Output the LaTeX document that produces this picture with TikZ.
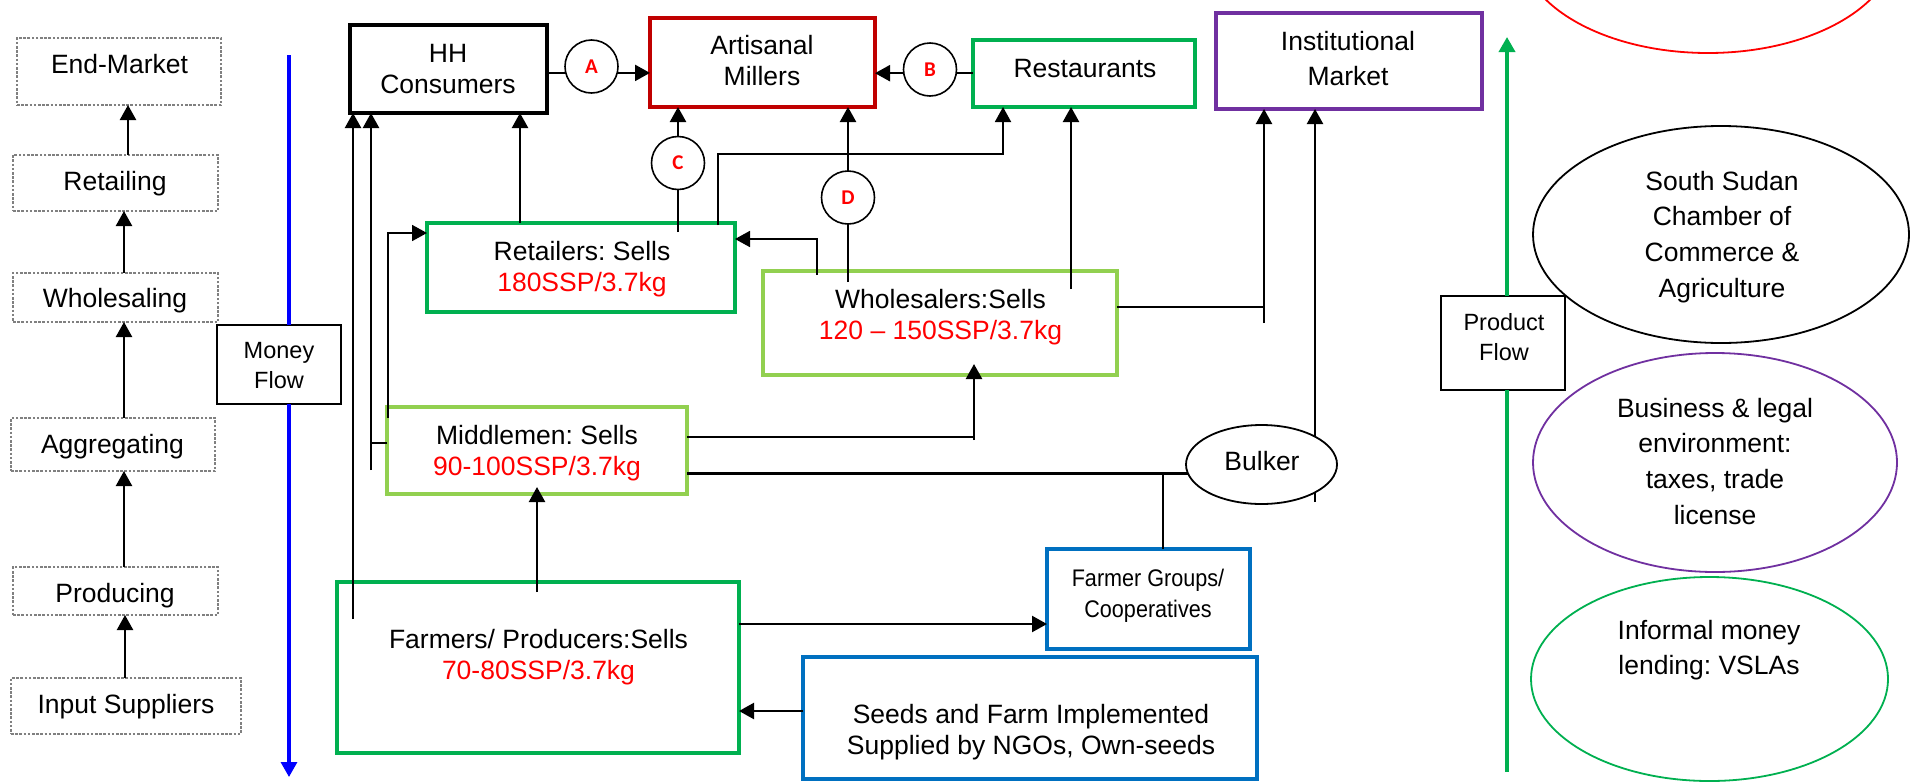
\documentclass[tikz,border=0pt]{standalone}
\usepackage{fontspec}
\setmainfont{Liberation Sans}
\newfontfamily\narrowfont[FakeStretch=0.9]{Liberation Sans}
\newfontfamily\tagfont{Carlito}
\usetikzlibrary{arrows.meta,shapes.geometric}
\frenchspacing

\definecolor{actgreen}{HTML}{00B050}
\definecolor{litegreen}{HTML}{92D050}
\definecolor{millred}{HTML}{C00000}
\definecolor{instpurple}{HTML}{7030A0}
\definecolor{coopblue}{HTML}{0070C0}
\definecolor{pricered}{HTML}{FF0000}
\definecolor{moneyblue}{HTML}{0000FF}
\definecolor{stepgray}{HTML}{808080}

\newcommand\capstrut{\rule{0pt}{20pt}}
\newcommand\boxfont{\fontsize{26.5}{31}\selectfont}
\newcommand\ovalfont{\fontsize{26.5}{35.7}\selectfont}
\newcommand\flowfont{\fontsize{23.5}{30}\selectfont}
\newcommand\price[1]{\textcolor{pricered}{#1}}

\tikzset{
  bx/.style={rectangle, inner sep=0pt, outer sep=0pt},
  dims/.style 2 args={minimum width=#1pt, minimum height=#2pt},
  stepbox/.style={bx, draw=stepgray, line width=1.1pt, dash pattern=on 2.6pt off 1.6pt},
  flowbox/.style={bx, draw=black, line width=2pt},
  actor/.style={bx, draw=#1, line width=3.2pt},
  oval/.style={ellipse, draw=#1, line width=1.8pt, inner sep=0pt, outer sep=0pt},
  tag/.style={circle, draw=black, line width=1.6pt, fill=white, inner sep=0pt, outer sep=0pt,
              minimum size=53pt, text=pricered, font=\tagfont\bfseries\fontsize{21}{21}\selectfont},
  txt/.style={inner sep=0pt, anchor=north, align=center, font=\boxfont},
  ln/.style={line width=2.3pt},
  fineln/.style={line width=1.8pt},
  arrowend/.style={-{Triangle[width=16pt,length=15pt]}},
}

\begin{document}
\begin{tikzpicture}[x=1pt,y=-1pt]
\fill[white] (0,0) rectangle (1910,782);
\useasboundingbox (0,0) rectangle (1910,782);

% ---------- value-chain stages (left column) ----------
\node[stepbox, dims={204}{67}] (em) at (119,71.5) {};
\node[stepbox, dims={205}{56}] (rt) at (115.5,183) {};
\node[stepbox, dims={205}{49}] (ws) at (115.5,297.5) {};
\node[stepbox, dims={204}{53}] (ag) at (113,444.5) {};
\node[stepbox, dims={205}{48}] (pr) at (115.5,591) {};
\node[stepbox, dims={230}{56}] (is) at (126,706) {};

\node[txt] (em-t) at (119.5,53) {\capstrut End-Market};
\node[txt] (rt-t) at (115,170) {\capstrut Retailing};
\node[txt] (ws-t) at (115,287) {\capstrut Wholesaling};
\node[txt] (ag-t) at (112.5,433) {\capstrut Aggregating};
\node[txt] (pr-t) at (115,582) {\capstrut Producing};
\node[txt] (is-t) at (126,693) {\capstrut Input Suppliers};

\coordinate (s1) at (128,0);
\coordinate (s2) at (124,0);
\coordinate (s3) at (125,0);
\draw[ln, arrowend] (rt.north -| s1) -- (em.south -| s1);
\draw[ln, arrowend] (ws.north -| s2) -- (rt.south -| s2);
\draw[ln, arrowend] (ag.north -| s2) -- (ws.south -| s2);
\draw[ln, arrowend] (pr.north -| s2) -- (ag.south -| s2);
\draw[ln, arrowend] (is.north -| s3) -- (pr.south -| s3);

% ---------- money and product flow axes ----------
\node[flowbox, dims={124}{79}] (money) at (279,364.5) {};
\node[txt, font=\flowfont] (money-t) at (279,338) {\capstrut Money\\Flow};
\coordinate (mtop) at (289,55);
\coordinate (mbot) at (289,777);
\draw[moneyblue, line width=3.3pt] (money.north -| mtop) -- (mtop);
\draw[moneyblue, line width=3.3pt, -{Triangle[width=16pt,length=15pt]}] (money.south -| mbot) -- (mbot);

\node[flowbox, dims={124}{94}] (prod) at (1503,343) {};
\node[txt, font=\flowfont] (prod-t) at (1504,310) {\capstrut Product\\Flow};
\coordinate (ptop) at (1507,37);
\coordinate (pbot) at (1507,772);
\draw[actgreen, line width=3.5pt, -{Triangle[width=16pt,length=15pt]}] (prod.north -| ptop) -- (ptop);
\draw[actgreen, line width=3.5pt] (prod.south -| pbot) -- (pbot);

% ---------- market actors ----------
\node[bx, draw=black, line width=3.5pt, dims={197}{88}] (hh) at (448.5,69) {};
\node[actor=millred, dims={225}{89}] (mil) at (762.5,62.5) {};
\node[actor=actgreen, dims={222}{67}] (rest) at (1084,73.5) {};
\node[actor=instpurple, dims={266}{96}] (inst) at (1349,61) {};
\node[actor=actgreen, dims={308}{89}] (ret) at (581,267.5) {};
\node[actor=litegreen, dims={354}{104}] (whl) at (940,323) {};
\node[actor=litegreen, dims={300}{87}] (mid) at (537,450.5) {};
\node[actor=actgreen, dims={402}{171}] (farm) at (538,667.5) {};
\node[actor=coopblue, dims={203}{100}] (fg) at (1148.5,599) {};
\node[actor=coopblue, dims={454}{122}] (seeds) at (1030,718) {};

\node[txt] (hh-t) at (448,42) {\capstrut HH\\Consumers};
\node[txt] (mil-t) at (762,34) {\capstrut Artisanal\\Millers};
\node[txt] (rest-t) at (1085,57) {\capstrut Restaurants};
\node[txt, font=\fontsize{26.5}{35}\selectfont] (inst-t) at (1348,30) {\capstrut Institutional\\Market};
\node[txt] (ret-t) at (582,240) {\capstrut Retailers: Sells\\\price{180SSP/3.7kg}};
\node[txt] (whl-t) at (940.5,288) {\capstrut Wholesalers:Sells\\\price{120 – 150SSP/3.7kg}};
\node[txt] (mid-t) at (537,424) {\capstrut Middlemen: Sells\\\price{90-100SSP/3.7kg}};
\node[txt] (farm-t) at (538.5,628) {\capstrut Farmers/ Producers:Sells\\\price{70-80SSP/3.7kg}};
\node[txt, font=\narrowfont\fontsize{24}{31}\selectfont] (fg-t) at (1148,566) {\capstrut Farmer Groups/\\Cooperatives};
\node[txt] (seeds-t) at (1031,703) {\capstrut Seeds and Farm Implemented\\Supplied by NGOs, Own-seeds};

% ---------- lettered exchange points ----------
\node[tag] (A) at (591.5,66.5) {A};
\node[tag] (B) at (930,69.5) {B};
\node[tag] (C) at (678,163) {C};
\node[tag] (D) at (848,197.5) {D};

% ---------- connectors ----------
% consumers and restaurants to the millers
\draw[ln] (A.194 -| hh.east) -- (A.194);
\draw[ln, arrowend] (A.346) -- (A.346 -| mil.west);
\draw[ln] (B.352 -| rest.west) -- (B.352);
\draw[ln, arrowend] (B.188) -- (B.188 -| mil.east);

% farmers and middlemen to households
\coordinate (v1) at (353,619);
\draw[ln, arrowend] (v1) -- (v1 |- hh.south);
\coordinate (v2) at (371,470);
\coordinate (v2j) at (371,443);
\draw[ln] (v2j -| mid.west) -- (v2j);
\draw[ln, arrowend] (v2) -- (v2 |- hh.south);

% middlemen to retailers
\coordinate (v3) at (388,418);
\coordinate (v3t) at (388,233);
\draw[fineln, arrowend] (v3) -- (v3t) -- (v3t -| ret.west);

% retailers to households, millers, restaurants
\coordinate (r1) at (520,0);
\draw[ln, arrowend] (ret.north -| r1) -- (hh.south -| r1);
\coordinate (retC) at (678,232);
\draw[ln] (retC) -- (C.south);
\draw[ln, arrowend] (C.north) -- (C.north |- mil.south);
\coordinate (rr1) at (718,225);
\coordinate (rr2) at (718,154);
\coordinate (rr3) at (1003,154);
\draw[fineln, arrowend] (rr1) -- (rr2) -- (rr3) -- (rr3 |- rest.south);

% wholesalers to retailers, millers, restaurants, institutions
\coordinate (wr1) at (817,275);
\coordinate (wr2) at (817,239);
\draw[fineln, arrowend] (wr1) -- (wr2) -- (wr2 -| ret.east);
\coordinate (wD) at (848,282);
\draw[ln] (wD) -- (D.south);
\draw[ln, arrowend] (D.north) -- (D.north |- mil.south);
\coordinate (wRe) at (1071,289);
\draw[ln, arrowend] (wRe) -- (wRe |- rest.south);
\coordinate (wi1) at (1264,307);
\coordinate (wi2) at (1264,323);
\draw[ln] (wi1 -| whl.east) -- (wi1);
\draw[ln, arrowend] (wi2) -- (wi2 |- inst.south);

% bulker to institutions
\coordinate (bi) at (1315,502);
\draw[ln, arrowend] (bi) -- (bi |- inst.south);
\node[oval=black, fill=white, dims={151}{79}] (bulker) at (1261.5,464.5) {};
\node[txt] (bulker-t) at (1262,450) {\capstrut Bulker};

% middlemen to wholesalers and bulker
\coordinate (mw1) at (974,437);
\coordinate (mw2) at (974,440);
\draw[ln] (mw1 -| mid.east) -- (mw1);
\draw[ln, arrowend, shorten >=-11pt] (mw2) -- (mw2 |- whl.south);
\draw[ln] (mid.east |- bulker.187.3) -- (bulker.187.3);

% farmer groups to bulker
\coordinate (fgb) at (1163,475);
\draw[fineln] (fgb |- fg.north) -- (fgb);

% farmers, farmer groups, inputs
\coordinate (fm) at (537,592);
\draw[ln, arrowend, shorten >=-7pt] (fm) -- (fm |- mid.south);
\coordinate (ff) at (0,624);
\draw[ln, arrowend] (ff -| farm.east) -- (ff -| fg.west);
\coordinate (sf) at (0,711);
\draw[ln, arrowend] (sf -| seeds.west) -- (sf -| farm.east);

% ---------- enabling environment ----------
\begin{scope}
  \clip (0,0) rectangle (1910,782);
  \node[oval=red, dims={376}{216}] (topoval) at (1708,-55) {};
\end{scope}
\node[oval=black, dims={376}{217}] (ss) at (1721,234.5) {};
\node[oval=instpurple, dims={364}{219}] (bus) at (1715,462.5) {};
\node[oval=actgreen, dims={357}{204}] (inf) at (1709.5,679) {};

\node[txt, font=\ovalfont] (ss-t) at (1722,170) {\capstrut South Sudan\\Chamber of\\Commerce \&\\Agriculture};
\node[txt, font=\ovalfont] (bus-t) at (1715,397) {\capstrut Business \& legal\\environment:\\taxes, trade\\license};
\node[txt, font=\ovalfont] (inf-t) at (1709,619) {\capstrut Informal money\\lending: VSLAs};
\end{tikzpicture}
\end{document}
